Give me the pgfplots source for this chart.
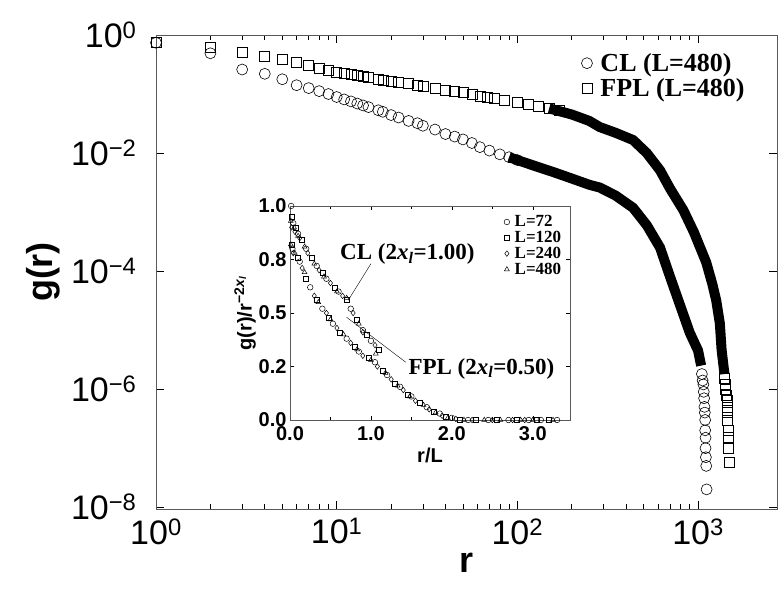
\documentclass[border=0pt]{standalone}
\usepackage{fontspec}
\setmainfont{Liberation Sans}
\newfontfamily\tms{Liberation Serif}
\usepackage{pgfplots}
\pgfplotsset{compat=1.18}
\begin{document}
\begin{tikzpicture}
\useasboundingbox (-156pt,-84pt) rectangle (622pt,509pt);
\begin{axis}[at={(0pt,0pt)},anchor=south west,scale only axis,width=621pt,height=474pt,
 xmode=log,ymode=log,xmin=1,xmax=2735,ymin=9.3e-9,ymax=1,
 axis line style={gray!70!black,line width=0.8pt},
 tick style={black,line width=0.6pt},major tick length=8pt,minor tick length=5pt,
 xtick={1,10,100,1000},xticklabels={10\textsuperscript{0},10\textsuperscript{1},10\textsuperscript{2},10\textsuperscript{3}},
 ytick={1,1e-2,1e-4,1e-6,1e-8},yticklabels={10\textsuperscript{0},10\textsuperscript{−2},10\textsuperscript{−4},10\textsuperscript{−6},10\textsuperscript{−8}},
 yminorticks=false,
 ticklabel style={font=\fontsize{34}{36}\selectfont},
 xticklabel style={yshift=-6pt},yticklabel style={xshift=-16pt},
 xlabel={\bfseries r},ylabel={\bfseries g(r)},
 label style={font=\fontsize{36}{38}\selectfont},
 xlabel style={yshift=-2pt},ylabel style={yshift=4pt},
 legend style={draw=none,fill=none,at={(0.68,0.97)},anchor=north west,font=\tms\bfseries\fontsize{26}{29}\selectfont,row sep=2pt,/tikz/every odd column/.append style={column sep=6pt}},
 legend cell align=left]
\addplot[only marks,mark=o,mark size=5.5pt,black,line width=0.6pt] coordinates {
(1,0.74)(2,0.49)(3,0.26)(4,0.22)(5,0.178)(6,0.141)(7,0.126)(8,0.112)(9,0.1)(10,0.089)(11,0.081)(12,0.075)(13,0.069)(14,0.064)(15,0.06)(17,0.053)(18,0.05)(20,0.044)(22,0.04)(25,0.035)(28,0.032)(30,0.029)(35,0.025)(40,0.021)(45,0.019)(50,0.017)(56,0.0148)(62,0.0126)(70,0.011)(80,0.0095)(90,0.0085)(100,0.0076)};
\addlegendentry{CL (L=480)}
\addplot[only marks,mark=square,mark size=5pt,black,line width=0.6pt] coordinates {
(1,0.74)(2,0.63)(3,0.5)(4,0.43)(5,0.38)(6,0.34)(7,0.31)(8,0.275)(9,0.255)(10,0.234)(11,0.222)(12,0.212)(13,0.205)(14,0.197)(15,0.19)(17,0.179)(18,0.174)(20,0.165)(22,0.158)(25,0.149)(28,0.141)(30,0.135)(35,0.125)(40,0.117)(45,0.111)(50,0.105)(56,0.098)(62,0.093)(68,0.089)(75,0.085)(85,0.079)(100,0.072)(115,0.066)(130,0.062)(150,0.057)(170,0.052)};
\addlegendentry{FPL (L=480)}
\addplot[black,line width=10pt] coordinates {
(90,0.0085)(100,0.0076)(130,0.0058)(160,0.0047)(200,0.0037)(250,0.0029)(286,0.0026)(350,0.0019)(437,0.00118)(520,0.0006)(616,0.00025)(700,0.00008)(800,0.000025)(900,0.000009)(1000,0.0000045)(1040,0.0000025)};
\addplot[black,line width=10pt] coordinates {
(150,0.057)(200,0.045)(250,0.035)(286,0.0275)(350,0.022)(437,0.0166)(520,0.01)(616,0.0051)(700,0.0025)(830,0.00107)(950,0.00045)(1110,0.00014)(1200,0.00006)(1260,0.000032)(1320,0.000013)(1350,0.0000046)(1400,0.0000018)};
\addplot[only marks,mark=o,mark size=5.5pt,black,line width=0.6pt] coordinates {
(1050,0.0000018)(1060,0.0000014)(1070,0.0000012)(1075,0.0000009)(1080,0.0000007)(1085,0.0000005)(1090,0.0000004)(1095,0.0000003)(1095,0.0000002)(1100,0.00000015)(1100,0.0000001)(1105,0.00000007)(1110,0.00000005)(1115,0.00000002)};
\addplot[only marks,mark=square,mark size=5pt,black,line width=0.6pt] coordinates {
(1400,0.0000015)(1410,0.0000012)(1420,0.000001)(1430,0.0000008)(1445,0.00000065)(1450,0.0000005)(1455,0.0000004)(1460,0.0000003)(1465,0.0000002)(1470,0.00000015)(1475,0.0000001)(1480,0.000000057)};
\end{axis}
\begin{axis}[at={(134pt,89pt)},anchor=south west,scale only axis,width=280pt,height=214pt,
 xmin=0,xmax=3.46,ymin=0,ymax=1,
 axis line style={gray!70!black,line width=0.8pt},tick style={black,line width=0.5pt},
 major tick length=4pt,
 xtick={0,1,2,3},xticklabels={0.0,1.0,2.0,3.0},minor xtick={0.5,1.5,2.5},
 ytick={0,0.25,0.5,0.75,1},yticklabels={0.0,0.2,0.5,0.8,1.0},
 ticklabel style={font=\bfseries\fontsize{20}{21}\selectfont},
 xticklabel style={yshift=-3pt},
 xlabel={\bfseries r/L},ylabel={\bfseries g(r)/r\textsuperscript{−2\textit{x}\textsubscript{\textit{l}}}},
 label style={font=\fontsize{20}{21}\selectfont},
 ylabel style={yshift=-4pt},
 legend style={draw=none,fill=none,at={(0.98,0.97)},anchor=north east,font=\tms\bfseries\fontsize{17}{18}\selectfont,row sep=-1pt,inner sep=1pt,/tikz/every odd column/.append style={column sep=3pt}},
 legend cell align=left,clip=false]
\addplot[only marks,mark=o,mark size=2.8pt,black,line width=0.5pt] coordinates {
(0.014,1.0)(0.04,0.92)(0.1,0.87)(0.2,0.8)(0.33,0.72)(0.45,0.66)(0.6,0.6)(0.75,0.52)(0.9,0.42)(1.0,0.37)
(0.03,0.8)(0.12,0.74)(0.25,0.62)(0.4,0.52)(0.53,0.45)(0.7,0.38)(0.85,0.32)(1.05,0.27)(1.2,0.21)(1.36,0.155)(1.5,0.11)(1.69,0.06)(1.85,0.03)(2.0,0.01)(2.2,0.0)(2.45,0.0)(2.7,0.0)(2.95,0.0)(3.1,0.0)(3.3,0.0)};
\addlegendentry{L=72}
\addplot[only marks,mark=square,mark size=2.5pt,black,line width=0.5pt] coordinates {
(0.025,0.95)(0.07,0.9)(0.15,0.84)(0.27,0.76)(0.4,0.69)(0.55,0.62)(0.7,0.56)(0.82,0.47)(0.95,0.4)(1.1,0.33)
(0.02,0.82)(0.09,0.76)(0.2,0.66)(0.33,0.56)(0.48,0.48)(0.62,0.41)(0.8,0.34)(0.97,0.29)(1.15,0.23)(1.3,0.17)(1.45,0.12)(1.6,0.08)(1.78,0.04)(1.92,0.015)(2.1,0.0)(2.3,0.0)(2.55,0.0)(2.8,0.0)(3.05,0.0)(3.2,0.0)};
\addlegendentry{L=120}
\addplot[only marks,mark=diamond,mark size=2.8pt,black,line width=0.5pt] coordinates {
(0.02,0.9)(0.06,0.88)(0.12,0.85)(0.22,0.78)(0.36,0.7)(0.5,0.64)(0.65,0.58)(0.78,0.5)(0.9,0.41)(1.05,0.35)
(0.04,0.78)(0.15,0.71)(0.3,0.58)(0.45,0.5)(0.58,0.43)(0.75,0.36)(0.9,0.3)(1.08,0.25)(1.25,0.19)(1.4,0.14)(1.55,0.09)(1.72,0.05)(1.88,0.02)(2.05,0.005)(2.25,0.0)(2.5,0.0)(2.75,0.0)(2.9,0.0)};
\addlegendentry{L=240}
\addplot[only marks,mark=triangle,mark size=2.8pt,black,line width=0.5pt] coordinates {
(0.01,0.93)(0.05,0.9)(0.1,0.86)(0.18,0.81)(0.3,0.73)(0.42,0.67)(0.58,0.6)(0.7,0.57)(0.85,0.45)(1.06,0.31)
(0.01,0.82)(0.06,0.78)(0.18,0.69)(0.35,0.55)(0.5,0.47)(0.66,0.4)(0.83,0.33)(1.0,0.28)(1.18,0.22)(1.33,0.16)(1.48,0.11)(1.65,0.07)(1.8,0.035)(1.95,0.01)(2.15,0.0)(2.4,0.0)(2.6,0.0)(2.85,0.0)(3.0,0.0)(3.25,0.0)};
\addlegendentry{L=480}
\node[anchor=south,font=\tms\fontsize{23}{25}\selectfont,inner sep=1pt] (cl) at (axis cs:1.45,0.72) {\bfseries CL (2\textit{x}\textsubscript{\textit{l}}=1.00)};
\draw[black,thin] (axis cs:1.0,0.73) -- (axis cs:0.72,0.56);
\node[anchor=west,font=\tms\fontsize{23}{25}\selectfont,inner sep=1pt] at (axis cs:1.45,0.24) {\bfseries FPL (2\textit{x}\textsubscript{\textit{l}}=0.50)};
\draw[black,thin] (axis cs:1.43,0.27) -- (axis cs:0.7,0.48);
\end{axis}
\end{tikzpicture}
\end{document}
